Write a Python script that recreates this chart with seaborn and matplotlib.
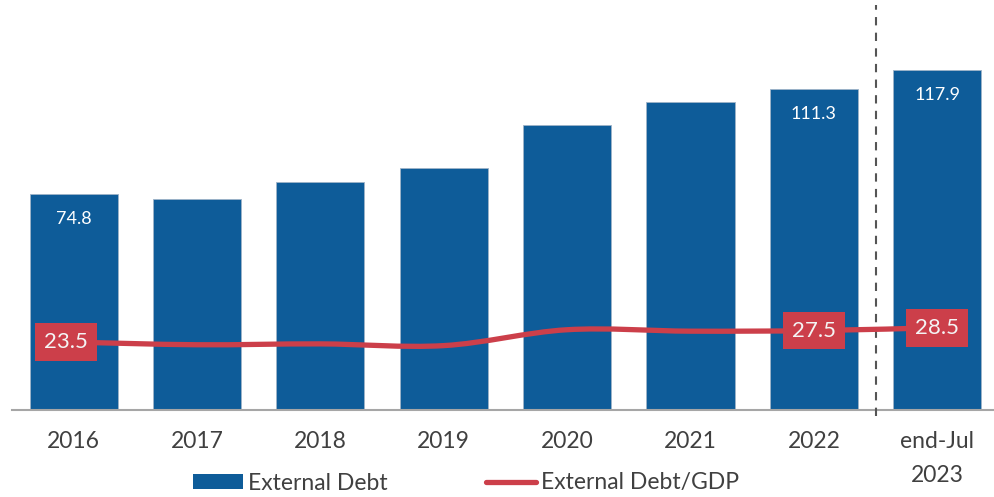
import numpy as np
import pandas as pd
import matplotlib
matplotlib.use("Agg")
import matplotlib.pyplot as plt
from matplotlib.path import Path
from matplotlib.patches import PathPatch, Patch
from matplotlib.lines import Line2D
import seaborn as sns

# External debt (USD bn) and external debt / GDP (%)
periods = ["2016", "2017", "2018", "2019", "2020", "2021", "2022", "end-Jul\n2023"]
external_debt = [74.8, 73.1, 78.9, 83.8, 98.7, 106.6, 111.3, 117.9]
debt_to_gdp = [23.5, 22.6, 22.9, 22.3, 27.8, 27.3, 27.5, 28.5]
debt_labels = {0: "74.8", 6: "111.3", 7: "117.9"}
ratio_labels = {0: "23.5", 6: "27.5", 7: "28.5"}

BLUE = "#0E5C99"
RED = "#CC3F4A"
TEXT = "#404040"

sns.set_theme(style="white")
plt.rcParams["font.family"] = ["Lato", "DejaVu Sans"]

fig = plt.figure(figsize=(9.94, 4.97), dpi=100)
W, H = 994, 497
ax = fig.add_axes([12 / W, (H - 410) / H, 1 - 12 / W, 410 / H])

df = pd.DataFrame({"period": periods, "debt": external_debt})
sns.barplot(data=df, x="period", y="debt", color=BLUE, width=0.714,
            saturation=1, edgecolor="#9fb3c8", linewidth=0.6, ax=ax)

ax.set_xlim(-0.5, 7.46)
ax.set_ylim(0, 142)

# smooth ratio line as a cubic Bezier spline through the points
x = np.arange(len(debt_to_gdp), dtype=float)
y = np.array(debt_to_gdp, dtype=float)
verts = [(x[0], y[0])]
codes = [Path.MOVETO]
n = len(x)
for i in range(n - 1):
    p0 = np.array([x[max(i - 1, 0)], y[max(i - 1, 0)]])
    p1 = np.array([x[i], y[i]])
    p2 = np.array([x[i + 1], y[i + 1]])
    p3 = np.array([x[min(i + 2, n - 1)], y[min(i + 2, n - 1)]])
    c1 = p1 + (p2 - p0) / 6.0
    c2 = p2 - (p3 - p1) / 6.0
    verts += [tuple(c1), tuple(c2), tuple(p2)]
    codes += [Path.CURVE4] * 3
ax.add_patch(PathPatch(Path(verts, codes), facecolor="none", edgecolor=RED,
                       lw=3.8, capstyle="round", joinstyle="round", zorder=4))

# value labels inside the bars
for i, txt in debt_labels.items():
    ax.annotate(txt, (i, external_debt[i]), xytext=(0, -18), textcoords="offset points",
                ha="center", va="center", color="white", fontsize=13, zorder=5)

# boxed ratio labels
for i, txt in ratio_labels.items():
    dx = -0.06 if i == 0 else 0.0
    ax.text(i + dx, debt_to_gdp[i], txt, ha="center", va="center", color="#f4f4f4",
            fontsize=16, zorder=6,
            bbox=dict(boxstyle="square,pad=0.4", facecolor=RED, edgecolor="none"))

# separator before the latest period
ax.axvline(6.5, ymin=-0.015, ymax=(410 - 5) / 410, color="#555555", lw=1.5,
           ls=(0, (4, 3.5)), clip_on=False, zorder=3)

sns.despine(ax=ax, left=True, top=True, right=True)
ax.spines["bottom"].set_color("#a6a6a6")
ax.spines["bottom"].set_linewidth(1.5)
ax.set_yticks([])
ax.set_xlabel("")
ax.set_ylabel("")
ax.tick_params(axis="x", length=0, pad=15, labelsize=16.5, labelcolor=TEXT)
for lab in ax.get_xticklabels():
    lab.set_linespacing(1.75)

handles = [Patch(facecolor=BLUE, edgecolor="none"),
           Line2D([0], [0], color=RED, lw=3.8, solid_capstyle="round")]
fig.legend(handles, ["External Debt", "External Debt/GDP"], loc="center",
           bbox_to_anchor=(466 / W, 1 - 483 / H), ncol=2, frameon=False,
           fontsize=16.5, labelcolor=TEXT, handlelength=2.2, handleheight=0.65,
           handletextpad=0.2, columnspacing=4.3)

fig.savefig("out.png", dpi=100)
